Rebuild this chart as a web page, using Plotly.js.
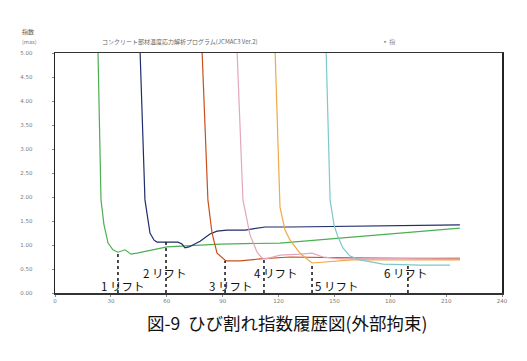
<!DOCTYPE html>
<html><head><meta charset="utf-8">
<script src="https://cdn.plot.ly/plotly-3.0.1.min.js"></script>
<style>html,body{margin:0;padding:0;background:#fff}#chart{width:527px;height:361px}</style>
</head><body><div id="chart"></div>
<script>
// x: age (days), y: crack index
const lift1X = [23.0, 23.1, 24.7, 26.3, 28.5, 31.1, 33.8, 37.6, 40.8, 44.0, 60.1, 88.6, 120.8, 163.8, 217.4];
const lift1Y = [6.0, 5.0, 1.94, 1.42, 1.04, 0.90, 0.85, 0.90, 0.81, 0.83, 0.96, 1.02, 1.04, 1.18, 1.35];
const lift2X = [45.6, 45.7, 48.3, 49.9, 51.0, 53.2, 54.8, 66.0, 68.2, 69.8, 71.9, 77.9, 83.2, 87.0, 92.3, 102.0, 107.4, 112.8, 126.2, 217.4];
const lift2Y = [6.0, 5.0, 1.94, 1.48, 1.25, 1.10, 1.06, 1.06, 1.02, 0.94, 0.96, 1.08, 1.23, 1.29, 1.31, 1.31, 1.35, 1.375, 1.375, 1.42];
const lift3X = [78.9, 79.0, 82.1, 84.3, 87.0, 90.2, 91.8, 99.3, 110.1, 126.2, 158.4, 217.4];
const lift3Y = [6.0, 5.0, 1.94, 1.25, 0.83, 0.71, 0.67, 0.67, 0.71, 0.75, 0.73, 0.71];
const lift4X = [97.7, 97.8, 100.9, 104.7, 108.5, 111.1, 113.3, 120.8, 131.5, 138.0, 143.9, 153.0, 217.4];
const lift4Y = [6.0, 5.0, 1.94, 1.21, 0.85, 0.73, 0.71, 0.79, 0.81, 0.83, 0.75, 0.71, 0.73];
const lift5X = [118.1, 118.2, 120.8, 123.5, 126.2, 131.5, 138.0, 147.7, 159.5, 217.4];
const lift5Y = [6.0, 5.0, 1.79, 1.31, 1.10, 0.83, 0.625, 0.65, 0.69, 0.69];
const lift6X = [145.5, 145.6, 147.7, 149.8, 151.9, 154.6, 158.4, 163.8, 176.1, 196.0, 212.1];
const lift6Y = [6.0, 5.0, 1.94, 1.42, 1.17, 0.94, 0.77, 0.69, 0.60, 0.58, 0.58];

const liftColors = ['#4caf50', '#1f2d6b', '#c8501e', '#e3a6bd', '#f0a848', '#7cc8cc'];
// minimum points marked by dotted lines
const markerX = [33.8, 59.6, 91.3, 112.2, 138.0, 189.5];
const markerY = [0.85, 1.06, 0.67, 0.71, 0.625, 0.60];
const labelText = ['1 リフト', '2 リフト', '3 リフト', '4 リフト', '5 リフト', '6 リフト'];
const labelX = [36.5, 59.0, 94.0, 118.6, 151.0, 188.4];
const labelY = [0.14, 0.42, 0.14, 0.42, 0.14, 0.42];

const xTicks = [0, 30, 60, 90, 120, 150, 180, 210, 240];
const yTicks = [0, 0.5, 1, 1.5, 2, 2.5, 3, 3.5, 4, 4.5, 5];

const series = [[lift1X, lift1Y], [lift2X, lift2Y], [lift3X, lift3Y], [lift4X, lift4Y], [lift5X, lift5Y], [lift6X, lift6Y]];
const traces = series.map((s, i) => ({
  x: s[0], y: s[1], type: 'scatter', mode: 'lines',
  line: {color: liftColors[i], width: 1.2}, showlegend: false, hoverinfo: 'skip'
}));
markerX.forEach((mx, i) => traces.push({
  x: [mx, mx], y: [0, markerY[i]], type: 'scatter', mode: 'lines',
  line: {color: '#111', width: 1.5, dash: 'dot'}, showlegend: false, hoverinfo: 'skip'
}));

const cjk = '"Noto Sans CJK JP", "Noto Sans", sans-serif';
const annotations = labelText.map((t, i) => ({
  x: labelX[i], y: labelY[i], xref: 'x', yref: 'y', text: t, showarrow: false,
  xanchor: 'center', yanchor: 'middle',
  font: {family: cjk, size: 11.5, color: '#111'}
}));
annotations.push({xref: 'paper', yref: 'paper', x: 0.52, y: -0.121, xanchor: 'center', yanchor: 'middle',
  text: '図-9  ひび割れ指数履歴図(外部拘束)',
  showarrow: false, font: {family: cjk, size: 17.5, color: '#111'}});
annotations.push({xref: 'paper', yref: 'paper', x: 0.1, y: 1.046, xanchor: 'left', yanchor: 'middle',
  text: 'コンクリート部材温度応力解析プログラム(JCMAC3 Ver.2)',
  showarrow: false, font: {family: cjk, size: 6, color: '#666'}});
annotations.push({xref: 'paper', yref: 'paper', x: -0.078, y: 1.088, xanchor: 'left', yanchor: 'middle', text: '指数',
  showarrow: false, font: {family: cjk, size: 6, color: '#555'}});
annotations.push({xref: 'paper', yref: 'paper', x: -0.078, y: 1.046, xanchor: 'left', yanchor: 'middle', text: '(max)',
  showarrow: false, font: {family: cjk, size: 5.5, color: '#777'}});
annotations.push({xref: 'paper', yref: 'paper', x: 0.727, y: 1.046, xanchor: 'left', yanchor: 'middle', text: '▪ 指',
  showarrow: false, font: {family: cjk, size: 6, color: '#888'}});

const layout = {
  width: 527, height: 361,
  margin: {l: 55, r: 25, t: 53, b: 68},
  paper_bgcolor: '#fff', plot_bgcolor: '#fff',
  font: {family: '"DejaVu Sans", sans-serif', size: 6, color: '#777'},
  xaxis: {range: [0, 240], tickvals: xTicks, ticks: 'outside', ticklen: 2, tickcolor: '#888',
    showgrid: false, zeroline: false, showline: true, linecolor: '#333', linewidth: 1.5, mirror: true,
    tickfont: {size: 5.5, color: '#777'}},
  yaxis: {range: [0, 5], tickvals: yTicks, tickformat: '.2f', ticks: 'outside', ticklen: 2, tickcolor: '#888',
    ticklabelstandoff: 18,
    showgrid: false, zeroline: false, showline: true, linecolor: '#222', linewidth: 1.5, mirror: true,
    tickfont: {size: 5.5, color: '#777'}},
  annotations: annotations
};
Plotly.newPlot('chart', traces, layout, {staticPlot: true, displayModeBar: false});
</script></body></html>
